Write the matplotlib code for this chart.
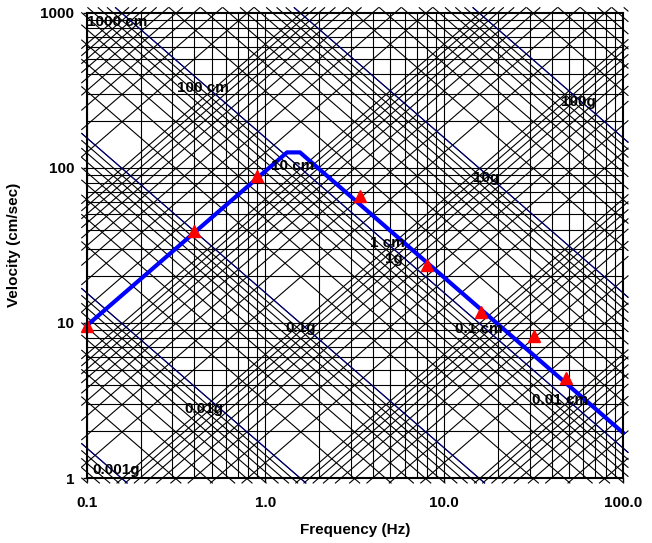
"""Tripartite response spectrum plot (velocity vs frequency)."""

import numpy as np
import matplotlib

matplotlib.use("Agg")
import matplotlib.pyplot as plt

plt.rcParams["font.family"] = ["Liberation Sans", "DejaVu Sans"]
plt.rcParams["font.weight"] = "bold"

# design spectrum (thick blue line)
spec_freq = [0.1, 1.32, 1.56, 100.0]
spec_vel = [9.6, 125.7, 125.7, 1.96]

# measured points (red triangles)
pt_freq = [0.1, 0.4, 0.9, 3.38, 8.0, 16.0, 31.6, 47.8]
pt_vel = [9.6, 39.3, 88.7, 65.9, 23.7, 11.7, 8.2, 4.4]

# tick labels
x_ticks = [0.1, 1.0, 10.0, 100.0]
x_ticklabels = ["0.1", "1.0", "10.0", "100.0"]
y_ticks = [1, 10, 100, 1000]
y_ticklabels = ["1", "10", "100", "1000"]

# grid decades
disp_decades = [0.001, 0.01, 0.1, 1, 10, 100, 1000]          # cm
acc_decades = [0.0001, 0.001, 0.01, 0.1, 1, 10, 100]         # g
blue_acc = [0.001, 0.01, 0.1, 1, 10, 100]                    # g

# annotation labels
label_text = ["1000 cm", "100 cm", "10 cm", "1 cm", "1g", "0.1 cm", "0.01 cm",
              "0.001g", "0.01g", "0.1g", "10g", "100g"]
label_freq = [0.1477, 0.447, 1.425, 4.84, 5.23, 15.6, 44.4,
              0.146, 0.453, 1.58, 17.1, 56.6]
label_vel = [875, 328, 103, 32.8, 25.9, 9.14, 3.18,
             1.13, 2.79, 9.29, 86, 267]

G = 981.0
XLO, XHI = -1.0, 2.0
YLO, YHI = 0.0, 3.0
MX = 5 / 178.8
MY = 5 / 155.0


def diag_segment(c, slope):
    xlo, xhi = XLO - MX, XHI + MX
    ylo, yhi = YLO - MY, YHI + MY
    if slope > 0:
        xs, xe = max(xlo, ylo - c), min(xhi, yhi - c)
    else:
        xs, xe = max(xlo, c - yhi), min(xhi, c - ylo)
    if xs >= xe:
        return None
    xs_arr = np.array([xs, xe])
    ys_arr = c + slope * xs_arr
    return 10 ** xs_arr, 10 ** ys_arr


fig = plt.figure(figsize=(6.52, 5.43), dpi=100)
ax = fig.add_axes([0.133, 0.1197, 0.8225, 0.8569])
ax.set_xscale("log")
ax.set_yscale("log")
ax.set_xlim(0.1, 100)
ax.set_ylim(1, 1000)

# vertical / horizontal grid
for dec in [0.1, 1, 10]:
    for m in range(1, 10):
        ax.axvline(dec * m, color="black", lw=0.8, zorder=1)
for dec in [1, 10, 100]:
    for m in range(1, 10):
        ax.axhline(dec * m, color="black", lw=0.8, zorder=1)

# constant displacement lines
for dec in disp_decades:
    for m in range(1, 10):
        seg = diag_segment(np.log10(2 * np.pi * dec * m), 1)
        if seg:
            ax.plot(*seg, color="black", lw=0.8, zorder=1, clip_on=False)

# constant acceleration lines
for dec in acc_decades:
    for m in range(1, 10):
        seg = diag_segment(np.log10(dec * m * G / (2 * np.pi)), -1)
        if seg:
            ax.plot(*seg, color="black", lw=0.8, zorder=1, clip_on=False)

for a in blue_acc:
    seg = diag_segment(np.log10(a * G / (2 * np.pi)), -1)
    if seg:
        ax.plot(*seg, color="#000080", lw=0.8, zorder=2, clip_on=False)

ax.plot(spec_freq, spec_vel, color="#0000FF", lw=3, zorder=3, clip_on=False)
ax.plot(pt_freq, pt_vel, linestyle="none", marker="^", color="#FF0000",
        markersize=9, zorder=4, clip_on=False)

for t, f, v in zip(label_text, label_freq, label_vel):
    ax.text(f, v, t, ha="center", va="center", fontsize=11, fontweight="bold", zorder=5)

ax.set_xticks(x_ticks)
ax.set_xticklabels(x_ticklabels)
ax.set_yticks(y_ticks)
ax.set_yticklabels(y_ticklabels)
ax.minorticks_off()
ax.tick_params(axis="both", which="major", direction="out", length=3, width=1,
               labelsize=11)
ax.tick_params(axis="y", pad=6)
ax.tick_params(axis="x", pad=10)
for lab in ax.get_xticklabels() + ax.get_yticklabels():
    lab.set_fontweight("bold")
for sp in ax.spines.values():
    sp.set_linewidth(1.5)
    sp.set_zorder(6)

ax.set_xlabel("Frequency (Hz)", fontsize=11, fontweight="bold", labelpad=9)
ax.set_ylabel("Velocity (cm/sec)", fontsize=11, fontweight="bold", labelpad=14)

fig.savefig("out.png", dpi=100)
